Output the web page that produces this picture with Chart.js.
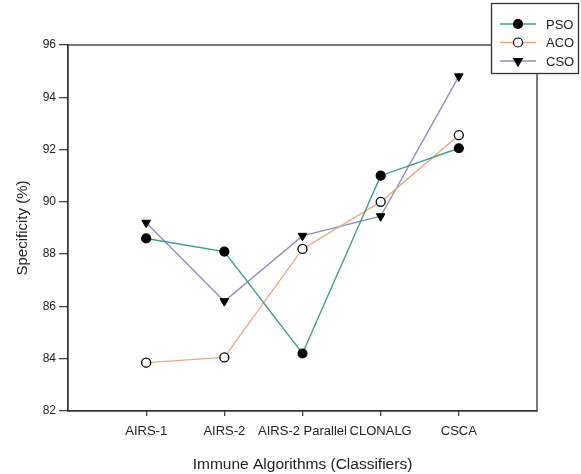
<!DOCTYPE html>
<html lang="en">
<head>
    <meta charset="UTF-8">
    <title>Specificity of Immune Algorithms</title>
    <style>
        html, body { margin: 0; padding: 0; background: #fff; }
        #wrap { width: 581px; height: 474px; }
    </style>
    <script src="https://cdn.jsdelivr.net/npm/chart.js"></script>
</head>
<body>
    <div id="wrap"><canvas id="chart" width="581" height="474"></canvas></div>

    <script>
        const categories = ['AIRS-1', 'AIRS-2', 'AIRS-2 Parallel', 'CLONALG', 'CSCA'];
        const psoValues = [88.6, 88.1, 84.2, 91.0, 92.05];
        const acoValues = [83.85, 84.05, 88.2, 90.0, 92.55];
        const csoValues = [89.2, 86.2, 88.7, 89.45, 94.8];
        const yMin = 82, yMax = 96, yStep = 2;

        const font = "'Liberation Sans', Arial, sans-serif";
        const textColor = '#222';

        function points(values) {
            return values.map((v, i) => ({ x: i, y: v }));
        }

        // frame around the plot plus a boxed legend sitting on the top right corner
        const framePlugin = {
            id: 'frame',
            afterDraw(chart) {
                const ctx = chart.ctx;
                const a = chart.chartArea;
                ctx.save();
                ctx.strokeStyle = '#333';
                ctx.lineWidth = 1.3;
                ctx.strokeRect(a.left, a.top, a.right - a.left, a.bottom - a.top);

                // legend box
                const bx = 491.5, by = 3.5, bw = 87, bh = 70;
                ctx.fillStyle = '#fff';
                ctx.fillRect(bx, by, bw, bh);
                ctx.strokeRect(bx, by, bw, bh);

                chart.data.datasets.forEach((ds, i) => {
                    const y = 24 + i * 18.5;
                    ctx.strokeStyle = ds.borderColor;
                    ctx.lineWidth = 1.3;
                    ctx.beginPath();
                    ctx.moveTo(500, y);
                    ctx.lineTo(536, y);
                    ctx.stroke();
                    ctx.lineWidth = 1.2;
                    ctx.fillStyle = ds.pointBackgroundColor;
                    ctx.strokeStyle = ds.pointBorderColor;
                    Chart.helpers.drawPoint(ctx, {
                        pointStyle: ds.pointStyle,
                        radius: ds.pointRadius,
                        rotation: ds.pointRotation || 0,
                        borderWidth: 1.2
                    }, 518, y);
                    ctx.fillStyle = textColor;
                    ctx.font = '13px ' + font;
                    ctx.textBaseline = 'middle';
                    ctx.fillText(ds.label, 546, y + 1);
                });
                ctx.restore();
            }
        };

        new Chart(document.getElementById('chart'), {
            type: 'line',
            data: {
                datasets: [{
                    label: 'PSO',
                    data: points(psoValues),
                    borderColor: '#3a9e86',
                    borderWidth: 1.4,
                    pointStyle: 'circle',
                    pointRadius: 4.5,
                    pointBackgroundColor: '#000',
                    pointBorderColor: '#000',
                    pointBorderWidth: 1.2
                }, {
                    label: 'ACO',
                    data: points(acoValues),
                    borderColor: '#eea77f',
                    borderWidth: 1.4,
                    pointStyle: 'circle',
                    pointRadius: 4.5,
                    pointBackgroundColor: '#fff',
                    pointBorderColor: '#000',
                    pointBorderWidth: 1.3
                }, {
                    label: 'CSO',
                    data: points(csoValues),
                    borderColor: '#8e8ebd',
                    borderWidth: 1.4,
                    pointStyle: 'triangle',
                    pointRotation: 180,
                    pointRadius: 5,
                    pointBackgroundColor: '#000',
                    pointBorderColor: '#000',
                    pointBorderWidth: 1
                }]
            },
            options: {
                responsive: false,
                animation: false,
                layout: { padding: { left: 0, top: 45, right: 44, bottom: 0 } },
                plugins: {
                    legend: { display: false },
                    tooltip: { enabled: false }
                },
                scales: {
                    x: {
                        type: 'linear',
                        min: -1,
                        max: categories.length,
                        afterBuildTicks(scale) {
                            scale.ticks = categories.map((_, i) => ({ value: i }));
                        },
                        afterFit(scale) { scale.height = 63; },
                        ticks: {
                            autoSkip: false,
                            maxRotation: 0,
                            padding: 8,
                            color: textColor,
                            font: { family: font, size: 13 },
                            callback: (v) => categories[v] !== undefined ? categories[v] : ''
                        },
                        grid: { drawOnChartArea: false, drawTicks: true, tickLength: 5, color: '#444', lineWidth: 1.3 },
                        border: { color: '#333', width: 1.3 },
                        title: {
                            display: true,
                            text: 'Immune Algorithms (Classifiers)',
                            color: textColor,
                            font: { family: font, size: 15.5 },
                            padding: { top: 4, bottom: 0 }
                        }
                    },
                    y: {
                        min: yMin,
                        max: yMax,
                        afterFit(scale) { scale.width = 68; },
                        ticks: {
                            stepSize: yStep,
                            padding: 3,
                            color: textColor,
                            font: { family: font, size: 12 }
                        },
                        grid: { drawOnChartArea: false, drawTicks: true, tickLength: 9, color: '#444', lineWidth: 1.3 },
                        border: { color: '#333', width: 1.3 },
                        title: {
                            display: true,
                            text: 'Specificity (%)',
                            color: textColor,
                            font: { family: font, size: 15 },
                            padding: { top: 14, bottom: 0 }
                        }
                    }
                }
            },
            plugins: [framePlugin]
        });
    </script>
</body>
</html>
